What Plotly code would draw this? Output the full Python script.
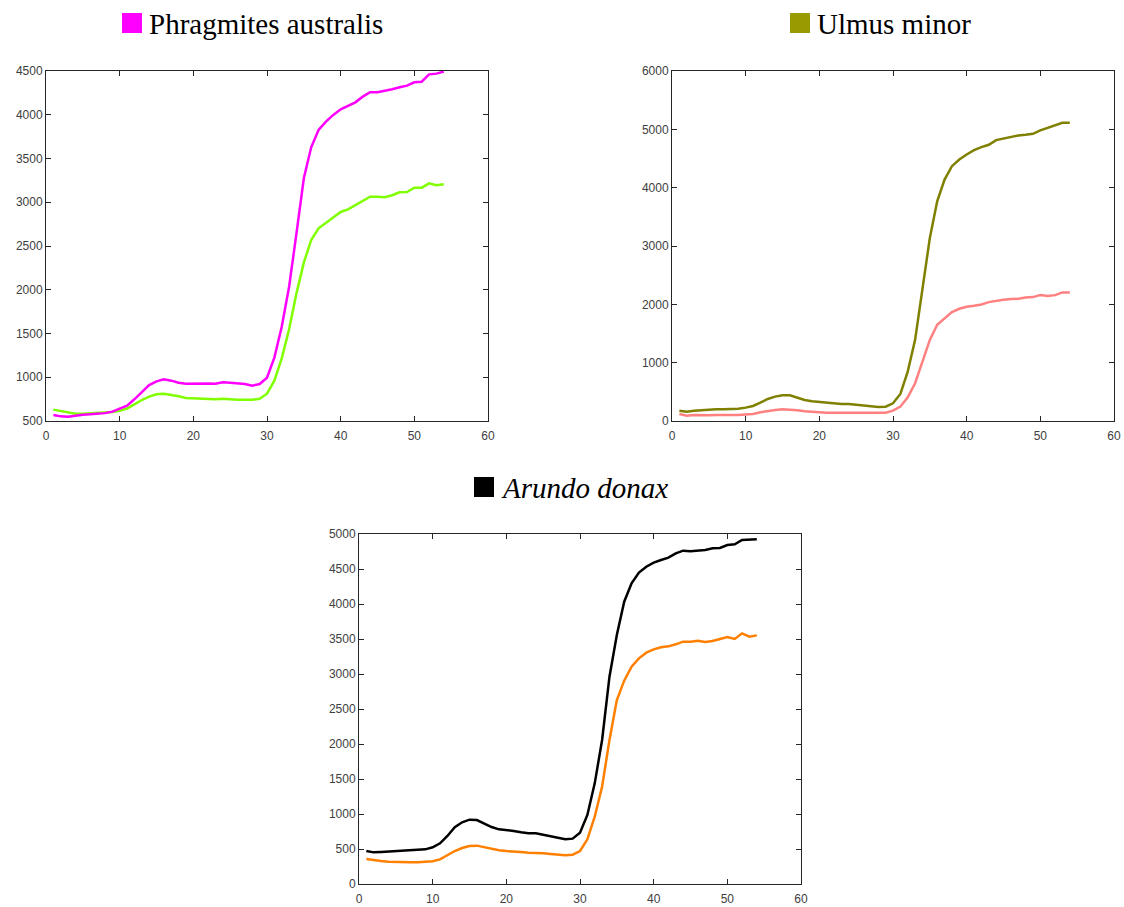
import plotly.graph_objects as go

x = list(range(1, 55))

# Phragmites australis
phrag_a = [569, 553, 550, 565, 572, 576, 580, 590, 607, 637, 675, 748, 831, 911, 953, 976, 961, 938,
           927, 930, 934, 930, 927, 942, 938, 930, 923, 904, 923, 995, 1224, 1578, 2035, 2645, 3274,
           3628, 3826, 3921, 3998, 4062, 4104, 4142, 4207, 4257, 4257, 4272, 4291, 4314, 4333, 4371,
           4378, 4462, 4470, 4493]
phrag_b = [630, 614, 599, 584, 584, 588, 588, 591, 603, 618, 641, 690, 740, 778, 805, 812, 801, 782,
           763, 759, 755, 751, 748, 755, 748, 744, 744, 744, 755, 812, 961, 1216, 1548, 1959, 2310,
           2569, 2702, 2767, 2828, 2889, 2919, 2965, 3015, 3064, 3064, 3057, 3080, 3114, 3117, 3167,
           3167, 3216, 3194, 3205]

# Ulmus minor
ulmus_a = [177, 160, 177, 189, 195, 200, 200, 200, 212, 229, 258, 315, 378, 418, 441, 441, 401, 361,
           338, 326, 315, 303, 292, 292, 281, 263, 252, 240, 246, 303, 464, 847, 1391, 2250, 3137,
           3767, 4139, 4368, 4483, 4569, 4643, 4695, 4735, 4815, 4843, 4866, 4895, 4906, 4923, 4981,
           5026, 5067, 5112, 5112]
ulmus_b = [120, 92, 103, 97, 97, 103, 97, 103, 103, 109, 120, 149, 172, 189, 200, 195, 183, 166,
           155, 149, 143, 143, 143, 143, 143, 137, 137, 137, 143, 177, 246, 406, 647, 1019, 1391,
           1649, 1763, 1866, 1924, 1958, 1975, 1998, 2038, 2061, 2078, 2090, 2095, 2118, 2124, 2158,
           2141, 2158, 2204, 2204]

# Arundo donax
arundo_a = [471, 452, 457, 462, 467, 471, 476, 481, 495, 524, 581, 686, 810, 881, 919, 914, 867, 814,
            781, 771, 757, 738, 724, 724, 705, 676, 657, 638, 648, 733, 986, 1438, 2057, 2962, 3557,
            4033, 4295, 4448, 4533, 4590, 4629, 4662, 4724, 4762, 4752, 4762, 4771, 4795, 4800, 4843,
            4852, 4914, 4919, 4924]
arundo_b = [357, 338, 329, 319, 314, 314, 310, 310, 314, 324, 352, 414, 471, 514, 543, 548, 524, 495,
            481, 471, 467, 457, 448, 448, 438, 429, 419, 410, 419, 471, 638, 962, 1391, 2057, 2629,
            2905, 3105, 3224, 3305, 3352, 3381, 3395, 3424, 3462, 3462, 3476, 3457, 3471, 3500, 3529,
            3500, 3581, 3533, 3552]

W, H = 1124, 907

fig = go.Figure()

def line(y, color, ax):
    fig.add_trace(go.Scatter(x=x, y=y, mode='lines', line=dict(color=color, width=2.5),
                             xaxis='x' + ax, yaxis='y' + ax, showlegend=False))

line(phrag_b, '#80FF00', '')
line(phrag_a, '#FF00FF', '')
line(ulmus_b, '#FF8080', '2')
line(ulmus_a, '#808000', '2')
line(arundo_b, '#FF8000', '3')
line(arundo_a, '#000000', '3')

def px_dom(a, b, total, flip=False):
    if flip:
        return [1 - b / total, 1 - a / total]
    return [a / total, b / total]

axis_style = dict(showline=True, mirror='ticks', linecolor='#262626', linewidth=1,
                  ticks='inside', ticklen=5, tickcolor='#262626', showgrid=False,
                  zeroline=False, automargin=False,
                  tickfont=dict(family='Liberation Sans', size=12, color='#404040'))

layout = dict(width=W, height=H, margin=dict(l=0, r=0, t=0, b=0),
              paper_bgcolor='white', plot_bgcolor='white')

panels = [('', (46, 488), (71, 421), [500, 4500], 500),
          ('2', (672, 1114), (71, 421), [0, 6000], 1000),
          ('3', (359, 801), (534, 884), [0, 5000], 500)]
for ax, (x0, x1), (y0, y1), yr, dt in panels:
    layout['xaxis' + ax] = dict(domain=px_dom(x0, x1, W), range=[0, 60], dtick=10,
                                anchor='y' + ax, ticklabelstandoff=4, **axis_style)
    layout['yaxis' + ax] = dict(domain=px_dom(y0, y1, H, flip=True), range=yr, dtick=dt,
                                anchor='x' + ax, **axis_style)

fig.update_layout(**layout)

# panel titles with coloured squares
titles = [('Phragmites australis', '#FF00FF', 122, 23),
          ('Ulmus minor', '#999900', 790, 23),
          ('<i>Arundo donax</i>', '#000000', 474, 487)]
for text, color, sx, cy in titles:
    fig.add_shape(type='rect', xref='paper', yref='paper',
                  x0=sx / W, x1=(sx + 20) / W, y0=1 - (cy + 10) / H, y1=1 - (cy - 10) / H,
                  fillcolor=color, line=dict(width=0))
    fig.add_annotation(text=text, xref='paper', yref='paper', x=(sx + 25) / W, y=1 - (cy + 1) / H,
                       xanchor='left', yanchor='middle', showarrow=False,
                       font=dict(family='Liberation Serif', size=29, color='black'))

# drop the page's default body margin so the figure fills the window exactly
fig.write_html("out.html", config={'displayModeBar': False},
               post_script="document.body.style.margin='0';document.body.style.overflow='hidden';")
